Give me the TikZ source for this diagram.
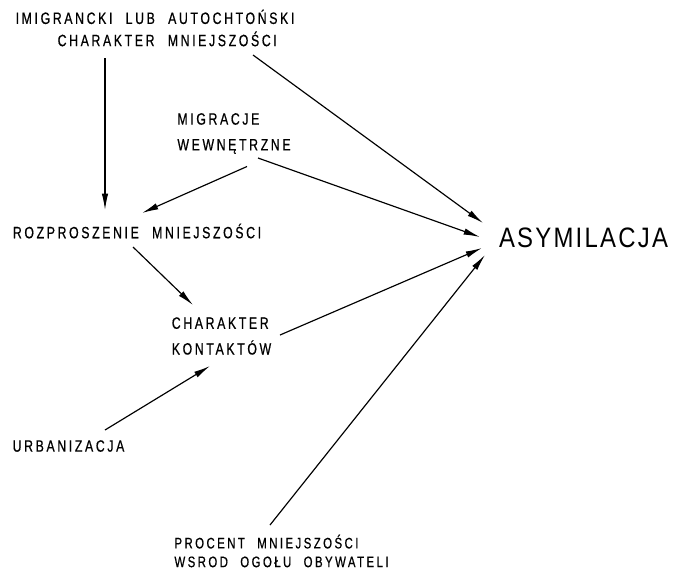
\documentclass[tikz,border=0pt]{standalone}
\usepackage{fontspec}
\usepackage{tikz}
\usetikzlibrary{arrows.meta,calc}

\newfontfamily\diagfont[FakeStretch=0.75,LetterSpace=16,WordSpace=2.2,FakeBold=0.6]{Liberation Sans}
\newfontfamily\bigfont[FakeStretch=0.85,LetterSpace=8]{Liberation Sans}

\begin{document}
\begin{tikzpicture}[x=0.03cm, y=-0.03cm,
    >={Latex[length=14pt,width=5.5pt]},
    lbl/.style={inner sep=0pt, align=left, font=\diagfont\fontsize{14}{22}\selectfont},
    arr/.style={->, line width=1pt}]

  \useasboundingbox (0,0) rectangle (679,574);

  % factors
  \node [lbl, font=\diagfont\fontsize{14}{19}\selectfont] (imig) at (155,28)
    {IMIGRANCKI LUB AUTOCHTOŃSKI\\\hspace*{1.26cm}CHARAKTER MNIEJSZOŚCI};
  \node [lbl] (migr) at (234,133.5) {MIGRACJE\\WEWNĘTRZNE};
  \node [lbl] (rozp) at (137,231) {ROZPROSZENIE MNIEJSZOŚCI};
  \node [lbl] (kont) at (221.5,336) {CHARAKTER\\KONTAKTÓW};
  \node [lbl] (urb) at (68.5,446) {URBANIZACJA};
  \node [lbl, font=\diagfont\fontsize{13}{16}\selectfont] (proc) at (281.5,551)
    {PROCENT MNIEJSZOŚCI\\WSROD OGOŁU OBYWATELI};

  % outcome
  \node [inner sep=0pt, font=\bigfont\fontsize{24}{28}\selectfont] (asym) at (583.5,238) {ASYMILACJA};

  \draw [arr] ($(imig)+(-50,30)$) -- ($(rozp)+(-32,-21)$) ;

  \draw [arr] ($(imig)+(98,27)$) -- ($(asym)+(-100.5,-15)$) ;

  \draw [arr] ($(migr)+(13,33)$) -- ($(rozp)+(5,-18)$) ;

  \draw [arr] ($(migr)+(24,24.5)$) -- ($(asym)+(-103.5,-1)$) ;

  \draw [arr] ($(rozp)+(-4,16)$) -- ($(kont)+(-28.5,-31)$) ;

  \draw [arr] ($(kont)+(58.5,-1)$) -- ($(asym)+(-101.5,10)$) ;

  \draw [arr] ($(urb)+(36.5,-16)$) -- ($(kont)+(-11.5,30)$) ;

  \draw [arr] ($(proc)+(-11.5,-26)$) -- ($(asym)+(-98.5,17)$) ;

\end{tikzpicture}
\end{document}
